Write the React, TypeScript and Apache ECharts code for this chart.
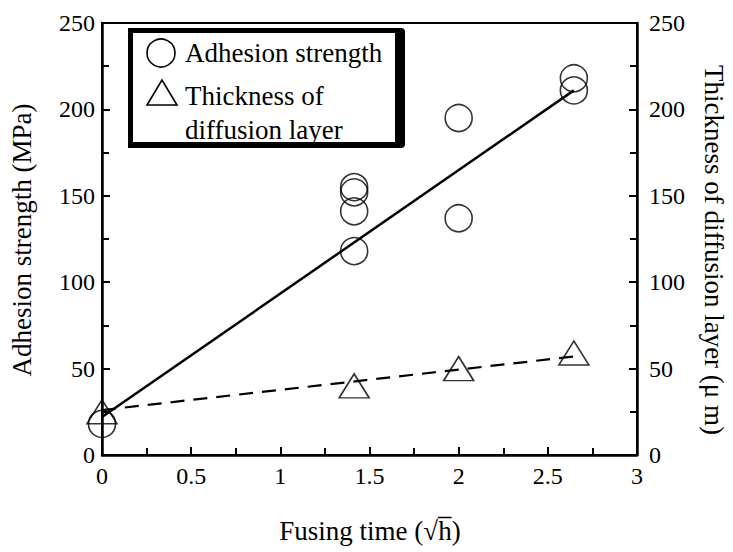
import React, { useEffect, useRef } from "react";
import * as echarts from "echarts";

// Adhesion strength (left axis, MPa)
const strengthTime = [0, 1.414, 1.414, 1.414, 1.414, 2, 2, 2.646, 2.646];
const strengthValues = [18, 155, 152, 141, 118, 195, 137, 218, 211];
// Thickness of diffusion layer (right axis, μm)
const thicknessTime = [0, 1.414, 2, 2.646];
const thicknessValues = [25, 40, 50, 59];
// Fitted lines
const fitTime = [0, 2.646];
const strengthFit = [22, 211];
const thicknessFit = [26, 57];

const FONT = "Liberation Serif";

export default function App() {
  const ref = useRef<HTMLDivElement>(null);
  useEffect(() => {
    if (!ref.current) return;
    const chart = echarts.init(ref.current, undefined, { renderer: "svg" });
    const tickStyle = { color: "#000", fontFamily: FONT, fontSize: 24 };
    const yAxisBase = {
      type: "value",
      min: 0,
      max: 250,
      interval: 50,
      axisLine: { show: true, lineStyle: { color: "#000", width: 2.5 } },
      axisTick: { show: true, inside: true, length: 8, lineStyle: { color: "#000", width: 2 } },
      minorTick: { show: true, splitNumber: 2, length: 7, lineStyle: { color: "#000", width: 2 } },
      splitLine: { show: false },
    };
    chart.setOption({
      animation: false,
      backgroundColor: "#fff",
      textStyle: { fontFamily: FONT },
      grid: {
        left: 102,
        right: 96,
        top: 23,
        bottom: 97,
        show: true,
        borderColor: "#000",
        borderWidth: 2,
        backgroundColor: "transparent",
      },
      xAxis: {
        type: "value",
        min: 0,
        max: 3,
        interval: 0.5,
        axisLine: { onZero: false, lineStyle: { color: "#000", width: 2.5 } },
        axisTick: { inside: true, length: 8, lineStyle: { color: "#000", width: 2 } },
        minorTick: { show: true, splitNumber: 2, length: 7, lineStyle: { color: "#000", width: 2 } },
        splitLine: { show: false },
        axisLabel: { ...tickStyle, margin: 9 },
      },
      yAxis: [
        { ...yAxisBase, position: "left", axisLabel: { ...tickStyle, margin: 7 } },
        { ...yAxisBase, position: "right", axisLabel: { ...tickStyle, margin: 12 } },
      ],
      series: [
        {
          type: "line",
          data: fitTime.map((t, i) => [t, strengthFit[i]]),
          showSymbol: false,
          symbol: "none",
          lineStyle: { color: "#000", width: 2.5 },
          z: 1,
        },
        {
          type: "line",
          yAxisIndex: 1,
          data: fitTime.map((t, i) => [t, thicknessFit[i]]),
          showSymbol: false,
          symbol: "none",
          lineStyle: { color: "#000", width: 2.2, type: [14, 9] },
          z: 1,
        },
        {
          type: "scatter",
          data: strengthTime.map((t, i) => [t, strengthValues[i]]),
          symbol: "circle",
          symbolSize: 27,
          itemStyle: { color: "transparent", borderColor: "#000", borderWidth: 1.6 },
          z: 3,
        },
        {
          type: "scatter",
          yAxisIndex: 1,
          data: thicknessTime.map((t, i) => [t, thicknessValues[i]]),
          symbol: "triangle",
          symbolSize: [30, 24],
          itemStyle: { color: "transparent", borderColor: "#000", borderWidth: 1.6 },
          z: 3,
        },
      ],
      graphic: [
        {
          type: "text",
          x: 22,
          y: 240,
          rotation: Math.PI / 2,
          style: {
            text: "Adhesion strength (MPa)",
            font: `27px "${FONT}"`,
            fill: "#000",
            align: "center",
            verticalAlign: "middle",
          },
        },
        {
          type: "text",
          x: 714,
          y: 250,
          rotation: -Math.PI / 2,
          style: {
            text: "Thickness of diffusion layer (\u03bc m)",
            font: `27px "${FONT}"`,
            fill: "#000",
            align: "center",
            verticalAlign: "middle",
          },
        },
        {
          type: "text",
          x: 370,
          y: 531,
          style: {
            text: "Fusing time (\u221Ah\u0305)",
            font: `27px "${FONT}"`,
            fill: "#000",
            align: "center",
            verticalAlign: "middle",
          },
        },
        // legend box with shadow
        {
          type: "rect",
          shape: { x: 128, y: 28, width: 277, height: 120, r: [0, 4, 4, 0] },
          style: { fill: "#000" },
          z: 10,
        },
        {
          type: "rect",
          shape: { x: 133, y: 33, width: 262, height: 109 },
          style: { fill: "#fff" },
          z: 11,
        },
        {
          type: "circle",
          shape: { cx: 161, cy: 53, r: 14 },
          style: { fill: "transparent", stroke: "#000", lineWidth: 1.6 },
          z: 12,
        },
        {
          type: "polygon",
          shape: { points: [[162, 80], [147, 105], [177, 105]] },
          style: { fill: "transparent", stroke: "#000", lineWidth: 1.6 },
          z: 12,
        },
        {
          type: "text",
          x: 185,
          y: 53,
          style: { text: "Adhesion strength", font: `27px "${FONT}"`, fill: "#000", verticalAlign: "middle" },
          z: 12,
        },
        {
          type: "text",
          x: 185,
          y: 96,
          style: { text: "Thickness of", font: `27px "${FONT}"`, fill: "#000", verticalAlign: "middle" },
          z: 12,
        },
        {
          type: "text",
          x: 185,
          y: 130,
          style: { text: "diffusion layer", font: `27px "${FONT}"`, fill: "#000", verticalAlign: "middle" },
          z: 12,
        },
      ],
    });
    return () => chart.dispose();
  }, []);
  return (
    <div
      ref={ref}
      style={{ position: "fixed", left: 0, top: 0, width: 733, height: 552 }}
    />
  );
}
